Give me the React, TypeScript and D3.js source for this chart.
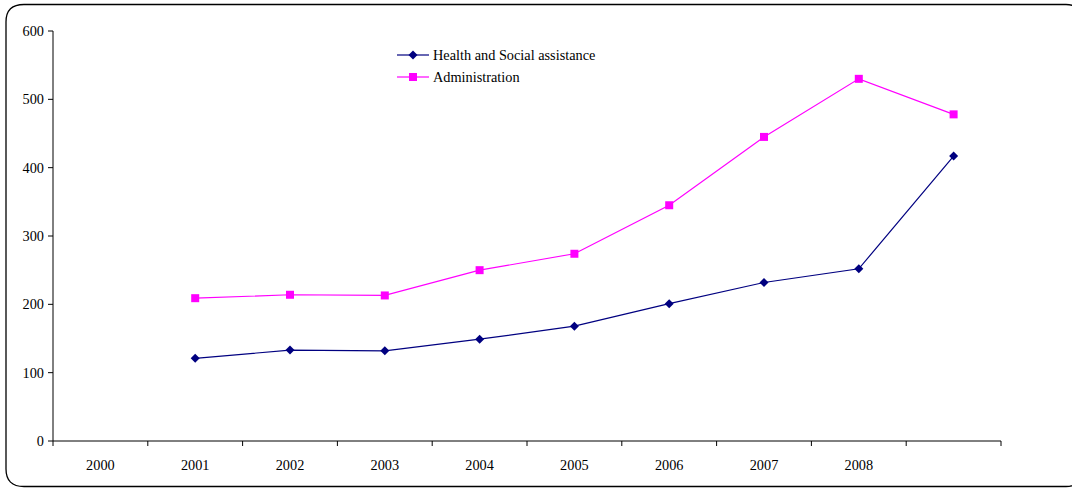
import React from "react";
import * as d3 from "d3";

const categories = ["2000", "2001", "2002", "2003", "2004", "2005", "2006", "2007", "2008", ""];
const healthValues: (number | null)[] = [null, 121, 133, 132, 149, 168, 201, 232, 252, 417];
const adminValues: (number | null)[] = [null, 209, 214, 213, 250, 274, 345, 445, 530, 478];
const yTicks = [0, 100, 200, 300, 400, 500, 600];
const seriesNames = ["Health and Social assistance", "Administration"];

const W = 1072;
const H = 488;
const FONT = "'Liberation Serif', 'Times New Roman', serif";
const FS = 14.3;

export default function App() {
  const x = d3.scaleBand<string>().domain(categories.map((c, i) => String(i))).range([53, 1001]).padding(0);
  const y = d3.scaleLinear().domain([0, 600]).range([441, 31]);
  const cx = (i: number) => (x(String(i)) as number) + x.bandwidth() / 2;

  const line = d3
    .line<number | null>()
    .defined((d) => d !== null)
    .x((_, i) => cx(i))
    .y((d) => y(d as number));

  const healthColor = "#000080";
  const adminColor = "#FF00FF";
  const diamond = (px: number, py: number, r = 4.5) =>
    `M${px},${py - r}L${px + r},${py}L${px},${py + r}L${px - r},${py}Z`;

  const bandEdges = categories.map((_, i) => x(String(i)) as number).concat([1001]);

  return (
    <svg width={W} height={H} style={{ position: "absolute", left: 0, top: 0, background: "#fff" }}>
      <path
        d={`M6,22 Q6,4.5 24,4.5 L1066,4.5 Q1080,4.5 1080,18 L1080,473 Q1080,486.5 1066,486.5 L24,486.5 Q6,486.5 6,469 Z`}
        fill="#fff"
        stroke="#000"
        strokeWidth={1.3}
      />
      {/* y axis */}
      <line x1={53} x2={53} y1={31} y2={441} stroke="#000" strokeWidth={1} />
      {yTicks.map((t) => (
        <g key={t}>
          <line x1={48} x2={53} y1={y(t)} y2={y(t)} stroke="#000" />
          <text x={44} y={y(t)} dy="0.35em" textAnchor="end" fontFamily={FONT} fontSize={FS} fill="#000">
            {t}
          </text>
        </g>
      ))}
      {/* x axis */}
      <line x1={53} x2={1001} y1={441} y2={441} stroke="#000" />
      {bandEdges.map((e, i) => (
        <line key={i} x1={e} x2={e} y1={441} y2={446} stroke="#000" />
      ))}
      {categories.map((c, i) => (
        <text key={i} x={cx(i)} y={470} textAnchor="middle" fontFamily={FONT} fontSize={FS} fill="#000">
          {c}
        </text>
      ))}
      {/* series */}
      <path d={line(adminValues) || ""} fill="none" stroke={adminColor} strokeWidth={1.2} />
      <path d={line(healthValues) || ""} fill="none" stroke={healthColor} strokeWidth={1.2} />
      {adminValues.map((v, i) =>
        v === null ? null : <rect key={i} x={cx(i) - 4} y={y(v) - 4} width={8} height={8} fill={adminColor} />
      )}
      {healthValues.map((v, i) => (v === null ? null : <path key={i} d={diamond(cx(i), y(v))} fill={healthColor} />))}
      {/* legend */}
      <g>
        <line x1={397} x2={429} y1={55} y2={55} stroke={healthColor} strokeWidth={1.2} />
        <path d={diamond(413, 55)} fill={healthColor} />
        <text x={433} y={55} dy="0.35em" fontFamily={FONT} fontSize={FS} fill="#000">
          {seriesNames[0]}
        </text>
        <line x1={397} x2={429} y1={77} y2={77} stroke={adminColor} strokeWidth={1.2} />
        <rect x={409} y={73} width={8} height={8} fill={adminColor} />
        <text x={433} y={77} dy="0.35em" fontFamily={FONT} fontSize={FS} fill="#000">
          {seriesNames[1]}
        </text>
      </g>
    </svg>
  );
}
